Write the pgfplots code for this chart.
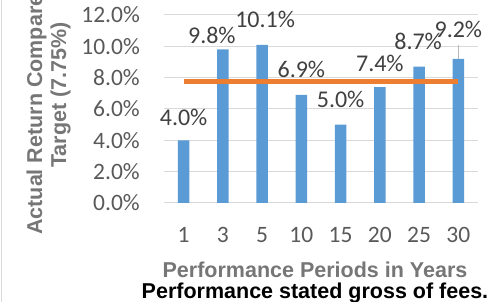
\documentclass[border=0pt]{standalone}
\usepackage{pgfplots}
\pgfplotsset{compat=1.18}
\usepackage{fontspec}
\setmainfont{Carlito}
\newfontfamily\lsans{Liberation Sans}
\definecolor{barblue}{HTML}{5B9BD5}
\definecolor{lineorange}{HTML}{ED7D31}
\definecolor{gridgray}{HTML}{D9D9D9}
\definecolor{tickgray}{HTML}{595959}
\definecolor{labelgray}{HTML}{404040}
\definecolor{titlegray}{HTML}{767676}
\begin{document}
\begin{tikzpicture}[x=1pt,y=1pt]
\path[use as bounding box] (0,0) rectangle (504,302);
\clip (0,0) rectangle (504,302);
\begin{axis}[
  at={(164pt,99pt)}, anchor=south west,
  scale only axis, width=314pt, height=188pt,
  xmin=-0.5, xmax=7.5, ymin=0, ymax=12,
  clip=false,
  axis line style={draw=none},
  major tick length=0pt,
  ytick={0,2,...,12},
  ymajorgrids, grid style={draw=gridgray, line width=1pt},
  xtick={0,...,7}, xticklabels={1,3,5,10,15,20,25,30},
  /pgf/number format/assume math mode=true,
  yticklabel={\pgfmathprintnumber[fixed,fixed zerofill,precision=1]{\tick}\%},
  ticklabel style={font=\fontsize{23.5}{26}\selectfont, text=tickgray, inner sep=0pt},
  xticklabel style={anchor=base, yshift=-40pt},
  yticklabel style={anchor=east, xshift=-24pt},
]
\addplot[ybar, bar width=11.7pt, fill=barblue, draw=none,
  visualization depends on={value \thisrow{dx} \as \dx},
  visualization depends on={value \thisrow{dy} \as \dy},
  nodes near coords={\pgfmathprintnumber[fixed,fixed zerofill,precision=1]{\pgfplotspointmeta}\%},
  every node near coord/.append style={anchor=base, inner sep=0pt,
     font=\fontsize{24}{26}\selectfont, text=labelgray, xshift=\dx pt, yshift=\dy pt},
  ] table {
x y dx dy
0 4.0 0 15.3
1 9.8 -11 6.4
2 10.1 3 17.7
3 6.9 0 16.9
4 5.0 0 16.7
5 7.4 0 16
6 8.7 -1 16.7
7 9.2 0 21.8
};
\addplot[color=lineorange, line width=4.5pt, mark=none] coordinates {
(0,7.75) (1,7.75) (2,7.75) (3,7.75) (4,7.75) (5,7.75) (6,7.75) (7,7.75)};
\draw[gray!55, line width=0.8pt] (axis cs:7,9.2) -- ++(0pt,14pt);
\end{axis}
\draw[gridgray, line width=1pt] (1,0) -- (1,302);
\node[anchor=base, rotate=90, inner sep=0pt, text=titlegray,
  font=\lsans\bfseries\fontsize{21.5}{24}\selectfont] at (42,207) {Actual Return Compared to};
\node[anchor=base, rotate=90, inner sep=0pt, text=titlegray,
  font=\lsans\bfseries\fontsize{21.5}{24}\selectfont] at (66,207) {Target (7.75\%)};
\node[anchor=base, inner sep=0pt, text=titlegray,
  font=\lsans\bfseries\fontsize{21.5}{24}\selectfont] at (315,24) {Performance Periods in Years};
\node[anchor=base, inner sep=0pt, text=black,
  font=\lsans\bfseries\fontsize{21.5}{24}\selectfont] at (315,3) {Performance stated gross of fees.};
\end{tikzpicture}
\end{document}
